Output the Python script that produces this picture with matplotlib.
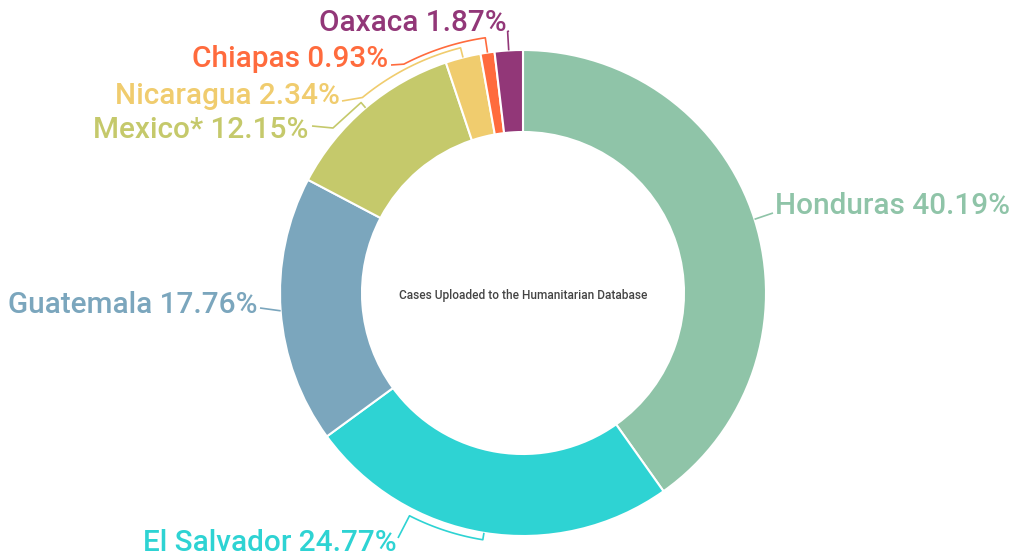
import numpy as np
from matplotlib import pyplot as plt

# Chart data
countries = ["Honduras", "El Salvador", "Guatemala", "Mexico*", "Nicaragua", "Chiapas", "Oaxaca"]
shares = [40.19, 24.77, 17.76, 12.15, 2.34, 0.93, 1.87]
colors = ["#8fc4a8", "#2ed3d3", "#7ba6bd", "#c5c96b", "#f0cc6e", "#ff6b3d", "#923778"]

# Label placement (pixels, y measured from top) and alignment
labelPos = [(775, 214), (397, 551), (258, 313), (308, 138), (340, 104), (388, 67), (507, 31)]
labelAlign = ["left", "right", "right", "right", "right", "right", "right"]

# Leader lines: start next to the text, optional knee, then an arc
# (radius, elbow angle clockwise from top; None = slice middle) down to the slice
lineStart = [(773, 213), (398, 538), (260, 308), (312, 126), (342, 101), (391, 65), (509, 31)]
lineKnee = [None, None, None, (333, 128), None, None, None]
lineArc = [(243, None), (250, 207), (243, None), (250, None), (253, 320.6), (258, 332.5), (262, None)]

W, H = 1017, 558
cx, cy = 523, 293
radius = 243
ringWidth = 82

plt.rcParams['font.family'] = ['Roboto', 'DejaVu Sans']


def toPlot(px, py):
    """ pixel coords (y from top) -> axes data coords """
    return px, H - py


def polar(r, angDeg):
    """ point at radius r, angle clockwise from top, in pixel coords """
    a = np.deg2rad(angDeg)
    return cx + r*np.sin(a), cy - r*np.cos(a)


fig = plt.figure(figsize=(W/100, H/100), dpi=100)
ax = fig.add_axes([0, 0, 1, 1])
ax.pie(shares, colors=colors, startangle=90, counterclock=False,
       radius=radius, center=toPlot(cx, cy), frame=True,
       wedgeprops=dict(width=ringWidth, edgecolor='white', linewidth=1.5))
ax.set_xlim(0, W)
ax.set_ylim(0, H)
ax.set_aspect('equal')
ax.axis('off')

total = sum(shares)
cum = np.cumsum([0] + shares)
for i, name in enumerate(countries):
    mid = (cum[i] + shares[i]/2)/total*360
    rArc, elbow = lineArc[i]
    if elbow is None:
        elbow = mid
    # unwrap so the arc takes the short way round
    if elbow - mid > 180:
        elbow -= 360
    elif mid - elbow > 180:
        elbow += 360
    pts = [lineStart[i]]
    if lineKnee[i] is not None:
        pts.append(lineKnee[i])
    for a in np.linspace(elbow, mid, 30):
        pts.append(polar(rArc, a))
    pts.append(polar(radius, mid))
    xs = [p[0] for p in pts]
    ys = [H - p[1] for p in pts]
    ax.plot(xs, ys, color=colors[i], lw=1.2, solid_capstyle='butt')

    tx, ty = toPlot(*labelPos[i])
    ax.text(tx, ty, "%s %.2f%%" % (name, shares[i]), color=colors[i],
            fontsize=21.4, fontweight='medium', ha=labelAlign[i], va='baseline')

ax.text(cx, H - 296, "Cases Uploaded to the Humanitarian Database",
        color="#444444", fontsize=8.6, fontweight='medium', ha='center', va='center')

fig.savefig("out.png", dpi=100)
